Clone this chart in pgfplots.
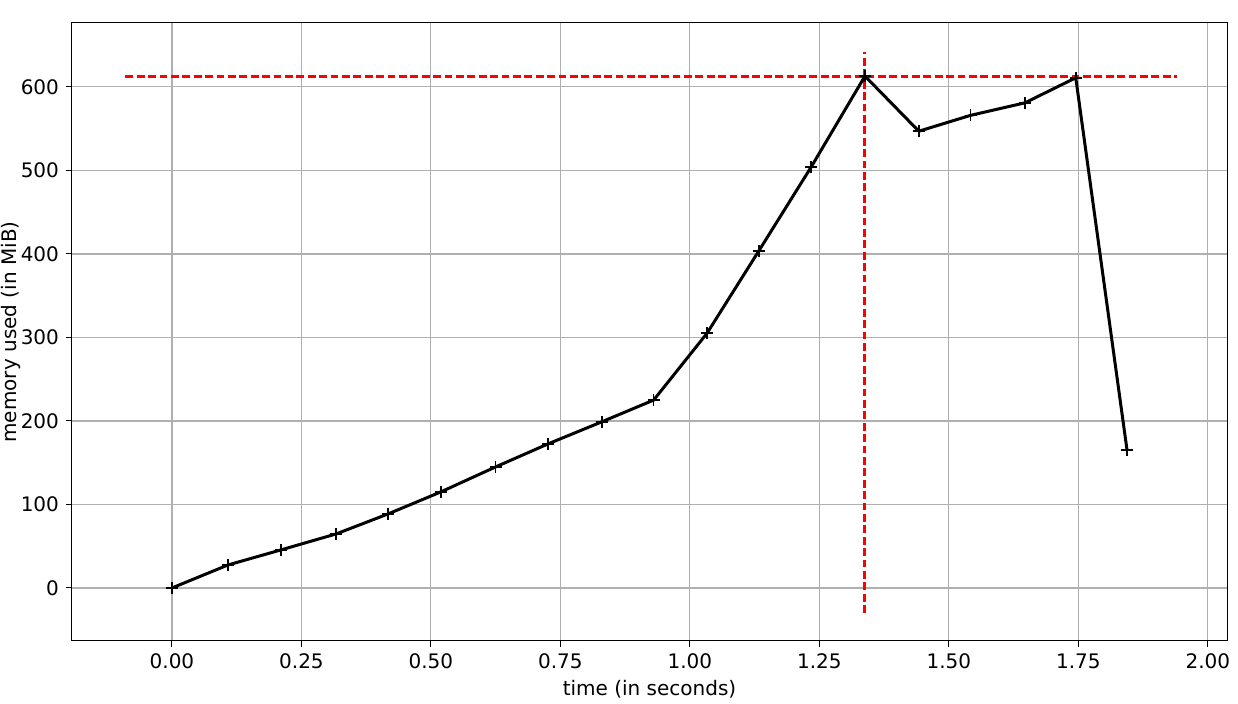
\documentclass[border=0pt]{standalone}
\usepackage{fontspec}
\setmainfont{DejaVu Sans}
\usepackage{pgfplots}
\pgfplotsset{compat=1.18}

\begin{document}
\begin{tikzpicture}
\begin{axis}[
    scale only axis,
    width=577.5pt, height=309pt,
    xmin=-0.193, xmax=2.037,
    ymin=-63.5, ymax=676.6,
    xtick={0,0.25,0.5,0.75,1,1.25,1.5,1.75,2},
    ytick={0,100,200,300,400,500,600},
    xticklabel style={/pgf/number format/.cd,fixed,fixed zerofill,precision=2},
    /pgf/number format/assume math mode=true,
    tick label style={font=\fontsize{10}{12}\selectfont},
    label style={font=\fontsize{10}{12}\selectfont},
    tick align=outside,
    major tick length=3pt,
    tick style={black, line width=0.5pt},
    xtick pos=bottom, ytick pos=left,
    axis line style={line width=0.5pt},
    grid=major,
    grid style={color=black!31, line width=0.55pt},
    xlabel={time (in seconds)},
    ylabel={memory used (in MiB)},
    xlabel style={at={(axis description cs:0.5,-0.0777)}, anchor=center},
    ylabel style={at={(axis description cs:-0.0531,0.5)}, anchor=center, inner sep=0pt},
    clip=false,
]
\addplot[color=red, line width=1.5pt, dash pattern=on 3.9pt off 1.8pt]
    coordinates {(-0.09, 613) (1.94, 613)};
\addplot[color=red, line width=1.5pt, dash pattern=on 3.9pt off 1.8pt]
    coordinates {(1.338, -30) (1.338, 642)};
\addplot[color=black, line width=1.5pt, mark=+, mark size=3pt,
    mark options={line width=0.8pt}]
    coordinates {
    (0.000, 0) (0.108, 27.5) (0.210, 45.5) (0.317, 64.7) (0.417, 88.6)
    (0.519, 115) (0.625, 145) (0.726, 172.5) (0.830, 199) (0.930, 225)
    (1.033, 305) (1.133, 403.6) (1.234, 504) (1.338, 613) (1.442, 547)
    (1.542, 566) (1.647, 581) (1.745, 611) (1.844, 165)
    };
\end{axis}
\pgfresetboundingbox
\path[use as bounding box] (-36pt,-31.5pt) rectangle (583pt,320.5pt);
\end{tikzpicture}
\end{document}
